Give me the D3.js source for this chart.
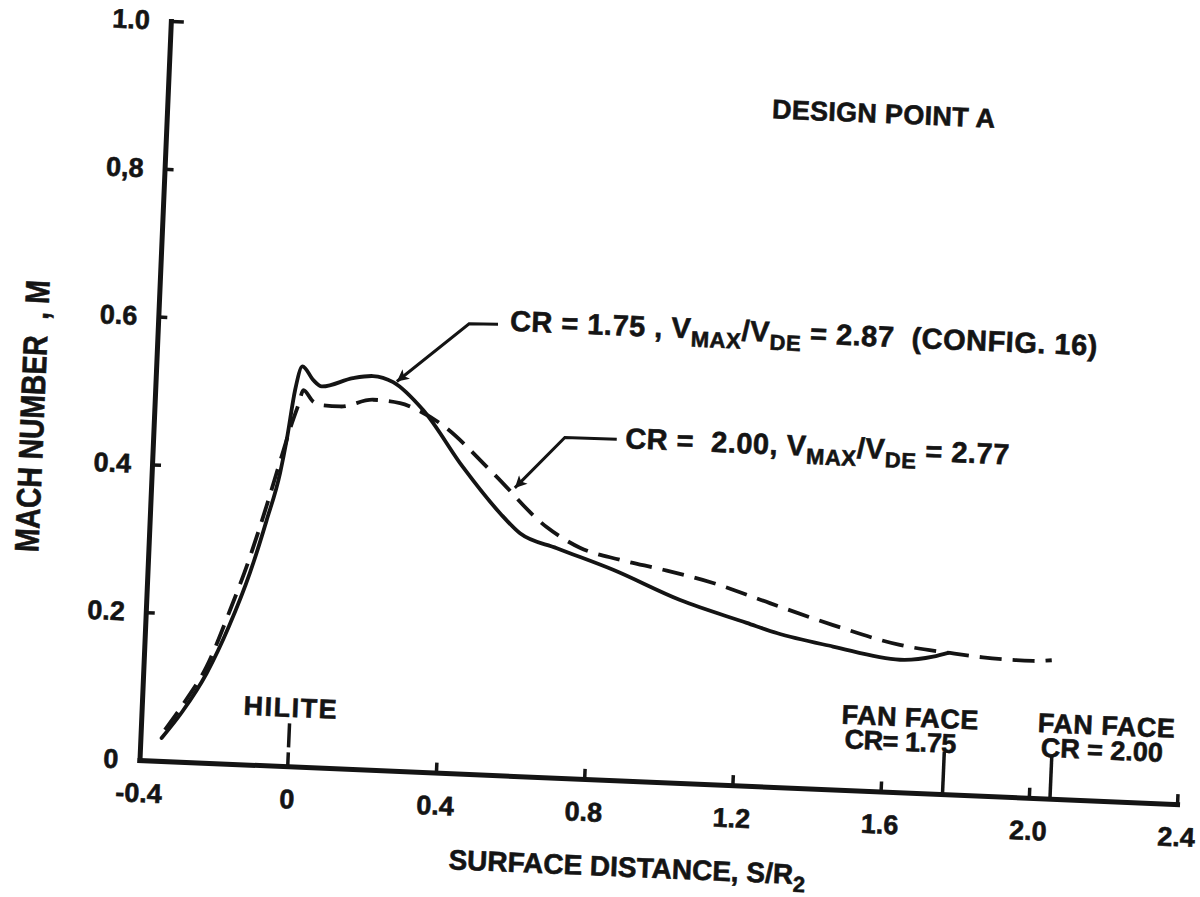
<!DOCTYPE html>
<html>
<head>
<meta charset="utf-8">
<title>Mach number distribution - Design point A</title>
<script src="https://cdn.jsdelivr.net/npm/d3@7/dist/d3.min.js"></script>
<style>
  html, body { margin: 0; padding: 0; background: #fff; }
  svg { display: block; }
  text { font-family: "Liberation Sans", Arial, Helvetica, sans-serif; font-weight: bold; fill: #141414;
         stroke: #141414; stroke-width: 0.6px; white-space: pre; }
</style>
</head>
<body>
<svg id="chart" width="1200" height="897"></svg>
<script>
// ---- axis ticks ----
const xTicks = [-0.4, 0, 0.4, 0.8, 1.2, 1.6, 2.0, 2.4];
const xTickLabels = ["-0.4", "0", "0.4", "0.8", "1.2", "1.6", "2.0", "2.4"];
const yTicks = [0, 0.2, 0.4, 0.6, 0.8, 1.0];
const yTickLabels = ["0", "0.2", "0.4", "0.6", "0,8", "1.0"];

// ---- CR = 1.75, Vmax/Vde = 2.87 (config. 16): solid curve ----
const crA_s = [-0.343, -0.290, -0.229, -0.174, -0.124, -0.085, -0.054, -0.040, -0.023, -0.006,
               0.025, 0.048, 0.131, 0.185, 0.240, 0.324, 0.438, 0.543, 0.599, 0.700,
               0.854, 1.038, 1.220, 1.302, 1.455, 1.637, 1.726, 1.766];
const crA_m = [0.031, 0.068, 0.121, 0.186, 0.259, 0.331, 0.396, 0.441, 0.509, 0.541,
               0.523, 0.515, 0.528, 0.532, 0.525, 0.489, 0.414, 0.354, 0.328, 0.310,
               0.284, 0.247, 0.220, 0.208, 0.193, 0.179, 0.185, 0.191];

// ---- CR = 2.00, Vmax/Vde = 2.77: dashed curve ----
const crB_s = [-0.335, -0.280, -0.230, -0.175, -0.126, -0.087, -0.056, -0.030, -0.012, -0.001,
               0.027, 0.046, 0.100, 0.188, 0.261, 0.307, 0.371, 0.519, 0.670, 0.762,
               0.871, 0.989, 1.125, 1.280, 1.453, 1.635, 1.771, 1.860, 1.996, 2.046];
const crB_m = [0.042, 0.085, 0.130, 0.205, 0.280, 0.350, 0.410, 0.460, 0.490, 0.509,
               0.494, 0.490, 0.489, 0.500, 0.497, 0.489, 0.472, 0.408, 0.338, 0.312,
               0.298, 0.287, 0.272, 0.248, 0.222, 0.199, 0.191, 0.187, 0.185, 0.187];

// ---- stations along the surface ----
const hiliteS = 0;
const fanFaceS = [1.767, 2.057];
const fanFaceLabels = [["FAN FACE", "CR= 1.75"], ["FAN FACE", "CR = 2.00"]];

// ---- layout ----
const W = 1038.5, H = 739.7;
const ink = "#141414";
const svg = d3.select("#chart");

const x = d3.scaleLinear().domain([-0.4, 2.4]).range([0, W]);
const y = d3.scaleLinear().domain([0, 1]).range([0, -H]);

// the whole figure sits slightly turned on the page
const g = svg.append("g").attr("transform", "translate(139.5,760) rotate(2.43)");

const defs = svg.append("defs");
defs.append("marker")
  .attr("id", "arrowhead")
  .attr("viewBox", "0 0 10 10")
  .attr("refX", 10).attr("refY", 5)
  .attr("markerUnits", "userSpaceOnUse")
  .attr("markerWidth", 18).attr("markerHeight", 12)
  .attr("orient", "auto")
  .append("path").attr("d", "M0,0 L10,5 L0,10 L2.5,5 Z").attr("fill", ink);

// ---- axes ----
const xAxis = d3.axisBottom(x)
  .tickValues(xTicks)
  .tickFormat((d, i) => xTickLabels[i])
  .tickSize(-10).tickSizeOuter(0).tickPadding(23);
const gx = g.append("g").attr("class", "x-axis").call(xAxis);
gx.attr("font-family", null).attr("font-size", null);
gx.select(".domain").attr("stroke", ink).attr("stroke-width", 5).attr("stroke-linecap", "square");
gx.selectAll(".tick line").attr("stroke", ink).attr("stroke-width", 3.5);
gx.selectAll(".tick").filter(d => d <= 0).select("line").remove();
gx.selectAll(".tick text").attr("font-size", 27);

const yAxis = d3.axisLeft(y)
  .tickValues(yTicks)
  .tickFormat((d, i) => yTickLabels[i])
  .tickSize(-9).tickSizeOuter(0).tickPadding(21);
const gy = g.append("g").attr("class", "y-axis").call(yAxis);
gy.attr("font-family", null).attr("font-size", null);
gy.select(".domain").attr("stroke", ink).attr("stroke-width", 5).attr("stroke-linecap", "square");
gy.selectAll(".tick line").attr("stroke", ink).attr("stroke-width", 3.5);
gy.selectAll(".tick").filter(d => d === 0).select("line").remove();
gy.selectAll(".tick").filter(d => d === 1).select("line").attr("x2", 13);
gy.selectAll(".tick text").attr("font-size", 27);

// axis titles
g.append("text")
  .attr("transform", "translate(-110,-339) rotate(-90)")
  .attr("text-anchor", "middle")
  .attr("font-size", 34)
  .attr("textLength", 272)
  .attr("lengthAdjust", "spacingAndGlyphs")
  .text("MACH NUMBER  , M");

const xt = g.append("text")
  .attr("x", x(0.444)).attr("y", 96)
  .attr("font-size", 28);
xt.append("tspan").text("SURFACE DISTANCE, S/R");
xt.append("tspan").attr("dy", 8).attr("font-size", 22).text("2");

// ---- curves ----
const line = d3.line()
  .x(d => x(d[0]))
  .y(d => y(d[1]))
  .curve(d3.curveMonotoneX);

g.append("path")
  .datum(d3.zip(crA_s, crA_m))
  .attr("d", line)
  .attr("fill", "none")
  .attr("stroke", ink)
  .attr("stroke-width", 3.8)
  .attr("stroke-linejoin", "round")
  .attr("stroke-linecap", "round");

g.append("path")
  .datum(d3.zip(crB_s, crB_m))
  .attr("d", line)
  .attr("fill", "none")
  .attr("stroke", ink)
  .attr("stroke-width", 3.8)
  .attr("stroke-dasharray", "22,11")
  .attr("stroke-linejoin", "round");

// ---- station markers ----
g.append("line")
  .attr("x1", x(hiliteS)).attr("x2", x(hiliteS))
  .attr("y1", 0).attr("y2", -43)
  .attr("stroke", ink).attr("stroke-width", 3.5)
  .attr("stroke-dasharray", "14,5,30");
g.append("text")
  .attr("x", x(hiliteS)).attr("y", -49.5)
  .attr("text-anchor", "middle")
  .attr("font-size", 27)
  .attr("textLength", 93)
  .text("HILITE");

const faceLineH = [42.5, 43.7];
const faceLabelX = [1.486, 2.016];
const faceLabelW = [[137, 112], [137, 122]];
fanFaceS.forEach((s, i) => {
  g.append("line")
    .attr("x1", x(s)).attr("x2", x(s))
    .attr("y1", 0).attr("y2", -faceLineH[i])
    .attr("stroke", ink).attr("stroke-width", 3.5);
  fanFaceLabels[i].forEach((t, j) => {
    g.append("text")
      .attr("x", x(faceLabelX[i]) + (j === 1 ? 4 : 0))
      .attr("y", j === 0 ? -66 : -41.5)
      .attr("font-size", 27)
      .attr("textLength", faceLabelW[i][j])
      .text(t);
  });
});

// ---- title ----
g.append("text")
  .attr("x", x(1.230)).attr("y", y(0.903))
  .attr("font-size", 27)
  .attr("textLength", 223)
  .text("DESIGN POINT A");

// ---- curve call-outs ----
const notes = [
  { tip: [0.250, 0.526], elbow: [0.438, 0.608], end: [0.516, 0.609], at: [0.548, 0.601],
    parts: [["CR = 1.75 , V", 0], ["MAX", 1], ["/V", 0], ["DE", 1], [" = 2.87  (CONFIG. 16)", 0]] },
  { tip: [0.580, 0.389], elbow: [0.709, 0.460], end: [0.849, 0.4605], at: [0.872, 0.449],
    parts: [["CR =  2.00, V", 0], ["MAX", 1], ["/V", 0], ["DE", 1], [" = 2.77", 0]] }
];
notes.forEach(n => {
  g.append("path")
    .attr("d", d3.line()([[x(n.end[0]), y(n.end[1])], [x(n.elbow[0]), y(n.elbow[1])], [x(n.tip[0]), y(n.tip[1])]]))
    .attr("fill", "none")
    .attr("stroke", ink)
    .attr("stroke-width", 3)
    .attr("marker-end", "url(#arrowhead)");
  const t = g.append("text")
    .attr("x", x(n.at[0])).attr("y", y(n.at[1]))
    .attr("font-size", 29)
    .attr("letter-spacing", 0.5);
  let down = 0;
  n.parts.forEach(([str, sub]) => {
    const shift = sub ? 8 : 0;
    t.append("tspan")
      .attr("dy", shift - down)
      .attr("font-size", sub ? 22 : 29)
      .text(str);
    down = shift;
  });
});
</script>
</body>
</html>
